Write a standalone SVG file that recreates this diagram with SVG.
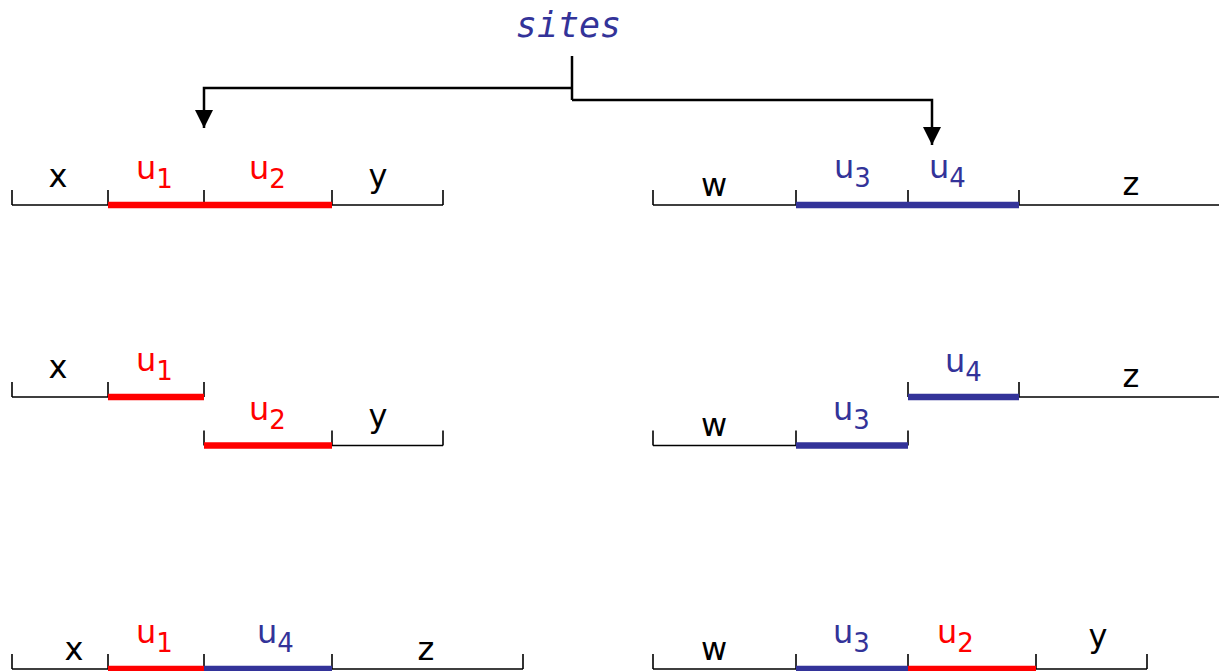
<svg xmlns="http://www.w3.org/2000/svg" width="1219" height="671" viewBox="0 0 1219 671">
<style>
.thin{stroke:#000;stroke-width:1.6;fill:none}
.red{stroke:#ff0000;stroke-width:6.5;fill:none}
.blue{stroke:#333399;stroke-width:6.5;fill:none}
.lbl{font-family:"DejaVu Sans",Verdana,sans-serif;font-size:32px;fill:#000}
.r{fill:#ff0000}
.b{fill:#333399}
.sub{font-size:26px}
.conn{stroke:#000;stroke-width:2.5;fill:none}
.sites{font-family:"DejaVu Sans Mono",monospace;font-style:italic;font-size:35px;fill:#333399}
</style>
<defs>
<marker id="arr" markerUnits="userSpaceOnUse" markerWidth="18" markerHeight="18" viewBox="0 0 16 16" refX="16" refY="8" orient="auto">
<path d="M0,0 L16,8 L0,16 Z" fill="#000"/>
</marker>
</defs>
<g id="sites">
<text class="sites" x="568.5" y="37" text-anchor="middle">sites</text>
</g>
<g id="connectors">
<path class="conn" d="M572,56 V100"/>
<path class="conn" d="M572,88 H204 V128" marker-end="url(#arr)"/>
<path class="conn" d="M572,100 H932 V145" marker-end="url(#arr)"/>
</g>
<g id="row1-left">
<path class="thin" d="M12,205 H443 M12,190 V205 M108,190 V205 M204,190 V205 M332,190 V205 M443,190 V205"/>
<path class="red" d="M108,205 H332"/>
<text class="lbl" x="58" y="187" text-anchor="middle">x</text>
<text class="lbl r" x="136" y="179">u<tspan class="sub" dy="9">1</tspan></text>
<text class="lbl r" x="249" y="179">u<tspan class="sub" dy="9">2</tspan></text>
<text class="lbl" x="378" y="187" text-anchor="middle">y</text>
</g>
<g id="row1-right">
<path class="thin" d="M653,205 H1219 M653,190 V205 M796,190 V205 M908,190 V205 M1019,190 V205"/>
<path class="blue" d="M796,205 H1019"/>
<text class="lbl" x="714" y="196" text-anchor="middle">w</text>
<text class="lbl b" x="834" y="178">u<tspan class="sub" dy="9">3</tspan></text>
<text class="lbl b" x="929" y="178">u<tspan class="sub" dy="9">4</tspan></text>
<text class="lbl" x="1131" y="195" text-anchor="middle">z</text>
</g>
<g id="row2-left">
<path class="thin" d="M12,397 H204 M12,382 V397 M108,382 V397 M204,382 V397"/>
<path class="red" d="M108,397 H204"/>
<text class="lbl" x="58" y="378" text-anchor="middle">x</text>
<text class="lbl r" x="136" y="371">u<tspan class="sub" dy="9">1</tspan></text>
<path class="thin" d="M204,445.5 H443 M204,430.5 V445.5 M332,430.5 V445.5 M443,430.5 V445.5"/>
<path class="red" d="M204,445.5 H332"/>
<text class="lbl r" x="249" y="420">u<tspan class="sub" dy="9">2</tspan></text>
<text class="lbl" x="378" y="427" text-anchor="middle">y</text>
</g>
<g id="row2-right">
<path class="thin" d="M653,445.5 H908 M653,430.5 V445.5 M796,430.5 V445.5 M908,430.5 V445.5"/>
<path class="blue" d="M796,445.5 H908"/>
<text class="lbl" x="714" y="436" text-anchor="middle">w</text>
<text class="lbl b" x="833" y="420">u<tspan class="sub" dy="9">3</tspan></text>
<path class="thin" d="M908,397 H1219 M908,382 V397 M1019,382 V397"/>
<path class="blue" d="M908,397 H1019"/>
<text class="lbl b" x="945" y="372">u<tspan class="sub" dy="9">4</tspan></text>
<text class="lbl" x="1131" y="387" text-anchor="middle">z</text>
</g>
<g id="row3-left">
<path class="thin" d="M12,669 H523 M12,654 V669 M108,654 V669 M204,654 V669 M332,654 V669 M523,654 V669"/>
<path class="red" d="M108,669 H204"/>
<path class="blue" d="M204,669 H332"/>
<text class="lbl" x="74" y="660" text-anchor="middle">x</text>
<text class="lbl r" x="136" y="643">u<tspan class="sub" dy="9">1</tspan></text>
<text class="lbl b" x="257" y="643">u<tspan class="sub" dy="9">4</tspan></text>
<text class="lbl" x="426" y="660" text-anchor="middle">z</text>
</g>
<g id="row3-right">
<path class="thin" d="M653,669 H1147 M653,654 V669 M796,654 V669 M908,654 V669 M1036,654 V669 M1147,654 V669"/>
<path class="blue" d="M796,669 H908"/>
<path class="red" d="M908,669 H1036"/>
<text class="lbl" x="714" y="660" text-anchor="middle">w</text>
<text class="lbl b" x="833" y="643">u<tspan class="sub" dy="9">3</tspan></text>
<text class="lbl r" x="937" y="643">u<tspan class="sub" dy="9">2</tspan></text>
<text class="lbl" x="1098" y="647" text-anchor="middle">y</text>
</g>
</svg>
